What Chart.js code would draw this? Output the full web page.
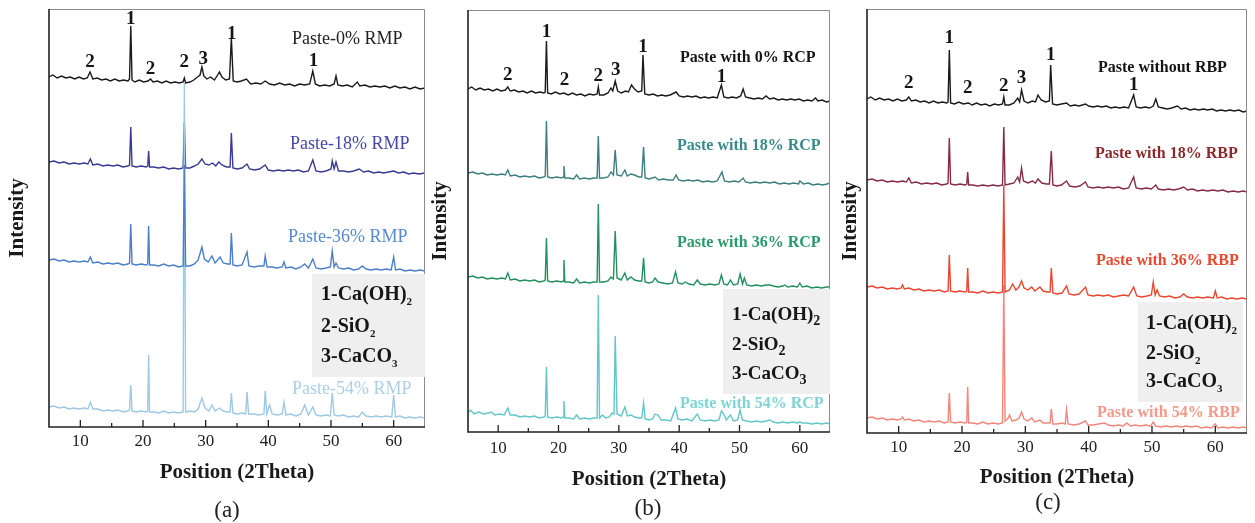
<!DOCTYPE html>
<html>
<head>
<meta charset="utf-8">
<script src="https://cdn.jsdelivr.net/npm/chart.js@4.4.1/dist/chart.umd.min.js"></script>
<style>
  html,body{margin:0;padding:0;background:#fff;}
  #wrap{position:relative;width:1255px;height:523px;overflow:hidden;font-family:"Liberation Serif","Times New Roman",serif;}
  canvas{position:absolute;top:0;}
  .t{position:absolute;white-space:nowrap;line-height:1;}
  .leg{position:absolute;background:#efefef;}
  .lg{position:absolute;white-space:nowrap;line-height:1;font-weight:bold;color:#151515;}
  .cap{position:absolute;width:100px;text-align:center;font-size:23px;line-height:1;color:#222;}
</style>
</head>
<body>
<div id="wrap">
  <canvas id="ca" width="430" height="523" style="left:0px"></canvas>
  <canvas id="cb" width="412" height="523" style="left:428px"></canvas>
  <canvas id="cc" width="417" height="523" style="left:838px"></canvas>

  <!-- panel (a) texts -->
  <div class="t" style="left:292px;top:29px;font-size:18px;color:#222;">Paste-0% RMP</div>
  <div class="t" style="left:290px;top:134px;font-size:18px;color:#4646a6;">Paste-18% RMP</div>
  <div class="t" style="left:288px;top:227px;font-size:18px;color:#5589d2;">Paste-36% RMP</div>
  <div class="leg" style="left:312px;top:274px;width:113px;height:103px;"></div>
  <div class="lg" style="left:321px;top:283px;font-size:20px;">1-Ca(OH)<span style="font-size:11px;position:relative;top:5px;">2</span></div>
  <div class="lg" style="left:321px;top:315px;font-size:20px;">2-SiO<span style="font-size:11px;position:relative;top:5px;">2</span></div>
  <div class="lg" style="left:321px;top:345px;font-size:20px;">3-CaCO<span style="font-size:11px;position:relative;top:5px;">3</span></div>
  <div class="t" style="left:292px;top:379px;font-size:18px;color:#a9d0e8;">Paste-54% RMP</div>
  <div class="cap" style="left:177px;top:498px;">(a)</div>

  <!-- panel (b) texts -->
  <div class="t" style="left:680px;top:49px;font-size:16px;font-weight:bold;color:#151515;">Paste with 0% RCP</div>
  <div class="t" style="left:677px;top:137px;font-size:16px;font-weight:bold;color:#3a8a8a;">Paste with 18% RCP</div>
  <div class="t" style="left:677px;top:234px;font-size:16px;font-weight:bold;color:#2a9a6a;">Paste with 36% RCP</div>
  <div class="leg" style="left:723px;top:289px;width:107px;height:105px;"></div>
  <div class="lg" style="left:732px;top:304px;font-size:19px;">1-Ca(OH)<span style="font-size:14px;position:relative;top:5px;">2</span></div>
  <div class="lg" style="left:732px;top:334px;font-size:19px;">2-SiO<span style="font-size:14px;position:relative;top:5px;">2</span></div>
  <div class="lg" style="left:732px;top:363px;font-size:19px;">3-CaCO<span style="font-size:14px;position:relative;top:5px;">3</span></div>
  <div class="t" style="left:680px;top:395px;font-size:16px;font-weight:bold;color:#7fd4d4;">Paste with 54% RCP</div>
  <div class="cap" style="left:598px;top:496px;">(b)</div>

  <!-- panel (c) texts -->
  <div class="t" style="left:1098px;top:59px;font-size:16px;font-weight:bold;color:#151515;">Paste without RBP</div>
  <div class="t" style="left:1095px;top:145px;font-size:16px;font-weight:bold;color:#8b2a2a;">Paste with 18% RBP</div>
  <div class="t" style="left:1096px;top:252px;font-size:16px;font-weight:bold;color:#e84a30;">Paste with 36% RBP</div>
  <div class="leg" style="left:1138px;top:302px;width:105px;height:100px;"></div>
  <div class="lg" style="left:1146px;top:312px;font-size:20px;">1-Ca(OH)<span style="font-size:11px;position:relative;top:5px;">2</span></div>
  <div class="lg" style="left:1146px;top:342px;font-size:20px;">2-SiO<span style="font-size:11px;position:relative;top:5px;">2</span></div>
  <div class="lg" style="left:1146px;top:370px;font-size:20px;">3-CaCO<span style="font-size:11px;position:relative;top:5px;">3</span></div>
  <div class="t" style="left:1097px;top:404px;font-size:16px;font-weight:bold;color:#f49a8a;">Paste with 54% RBP</div>
  <div class="cap" style="left:998px;top:490px;">(c)</div>
</div>

<script>
// ---------------- DATA (2Theta, intensity in arbitrary stacked units) ----------------
const xTicksMajor = [10, 20, 30, 40, 50, 60];

// Panel (a) RMP
const rmp0 = [[5,350],[5.6,352],[6.3,349],[7,351],[7.7,349],[8.4,350],[9.1,348],[9.8,350],[10.5,348],[11.1,349],[11.55,355],[12,348],[12.7,349],[13.4,347],[14.1,348],[14.8,346],[15.5,348],[16.2,346],[16.9,347],[17.6,346],[17.85,348],[18.05,401],[18.25,347],[18.7,345],[19.4,347],[20.1,345],[20.8,346],[21.2,348],[21.6,345],[22.3,346],[23,344],[23.7,346],[24.4,344],[25.1,345],[25.8,344],[26.4,345],[26.6,349],[26.8,344],[27.5,345],[28.1,347],[28.7,350],[29.1,352],[29.4,360],[29.7,351],[30.2,348],[30.8,350],[31.4,347],[31.9,352],[32.2,355],[32.6,350],[33.2,347],[33.8,348],[34.1,389],[34.4,346],[35,345],[35.7,346],[36.5,348],[37.2,343],[38,344],[38.8,343],[39.5,346],[40.2,343],[41,342],[41.8,344],[42.6,342],[43.4,343],[44.2,341],[45,343],[45.8,342],[46.6,343],[47.1,356],[47.5,343],[48.2,341],[49,342],[49.8,341],[50.5,343],[50.8,351],[51.1,342],[51.8,341],[52.6,342],[53.4,340],[54.2,345],[54.6,341],[55.4,342],[56.2,340],[57,341],[57.8,340],[58.6,341],[59.4,339],[60.2,341],[61,339],[61.8,340],[62.6,338],[63.4,340],[64.2,338],[65,339]];
const rmp18 = [[5,265],[5.8,266],[6.6,264],[7.4,265],[8.2,263],[9,264],[9.8,263],[10.6,264],[11.2,263],[11.6,268],[12,262],[12.8,263],[13.6,261],[14.4,262],[15.2,261],[16,262],[16.8,260],[17.6,261],[17.85,262],[18.05,300],[18.25,261],[18.9,260],[19.7,261],[20.5,260],[20.75,261],[20.9,276],[21.05,260],[21.7,260],[22.5,259],[23.3,260],[24.1,258],[24.9,259],[25.7,258],[26.4,259],[26.6,305],[26.8,259],[27.5,259],[28.2,261],[28.8,263],[29.4,268],[29.9,263],[30.5,262],[31.1,264],[31.6,261],[32.1,265],[32.6,262],[33.3,260],[33.9,260],[34.1,294],[34.35,259],[35,258],[35.8,259],[36.6,263],[37,258],[37.8,257],[38.6,258],[39.5,262],[40,257],[40.8,256],[41.6,257],[42.4,256],[43.2,257],[44,256],[44.8,257],[45.6,255],[46.4,256],[47.1,267],[47.6,256],[48.4,255],[49.2,256],[50,258],[50.2,266],[50.5,258],[50.8,265],[51.2,256],[52,256],[52.8,255],[53.6,256],[54.5,258],[55.2,255],[56,256],[56.8,254],[57.6,255],[58.4,254],[59.2,255],[60,256],[60.8,254],[61.6,255],[62.4,253],[63.2,254],[64,253],[65,254]];
const rmp36 = [[5,167],[5.8,168],[6.6,166],[7.4,167],[8.2,165],[9,166],[9.8,165],[10.6,166],[11.2,165],[11.6,170],[12,164],[12.8,165],[13.6,163],[14.4,164],[15.2,163],[16,164],[16.8,162],[17.6,163],[17.85,164],[18.05,203],[18.25,163],[18.9,162],[19.7,163],[20.5,162],[20.75,163],[20.9,201],[21.05,162],[21.7,162],[22.5,161],[23.3,163],[24.1,161],[24.9,162],[25.7,160],[26.4,161],[26.6,262],[26.8,161],[27.5,161],[28.2,163],[28.8,167],[29.4,180],[29.8,168],[30.4,165],[31,171],[31.5,164],[32.3,170],[32.8,164],[33.5,163],[33.9,163],[34.1,194],[34.35,162],[35,161],[35.8,162],[36.6,175],[36.9,161],[37.7,160],[38.5,161],[39.3,161],[39.5,171],[39.8,160],[40.6,160],[41.4,159],[42.2,160],[42.5,165],[42.8,159],[43.6,160],[44.4,158],[45.2,160],[45.8,163],[46.4,159],[47.1,168],[47.6,159],[48.4,158],[49.2,159],[49.9,160],[50.2,176],[50.5,160],[50.8,164],[51.2,159],[52,158],[52.8,159],[53.6,157],[54.4,158],[55,161],[55.6,158],[56.4,157],[57.2,158],[58,157],[58.8,158],[59.6,157],[60,170],[60.3,157],[61,158],[61.8,156],[62.6,157],[63.4,156],[64.2,157],[65,156]];
const rmp54 = [[5,20],[5.8,21],[6.6,19],[7.4,20],[8.2,18],[9,19],[9.8,18],[10.6,19],[11.2,18],[11.6,25],[12,18],[12.8,18],[13.6,16],[14.4,17],[15.2,16],[16,17],[16.8,15],[17.6,16],[17.85,17],[18.05,42],[18.25,16],[18.9,15],[19.7,16],[20.5,15],[20.75,16],[20.9,72],[21.05,15],[21.7,15],[22.5,14],[23.3,16],[24.1,14],[24.9,15],[25.7,14],[26.4,15],[26.6,344],[26.8,15],[27.5,16],[28.2,15],[28.8,18],[29.4,29],[29.9,19],[30.5,16],[31,22],[31.5,16],[32.2,19],[32.8,16],[33.5,15],[33.9,15],[34.1,34],[34.35,14],[35,13],[35.8,14],[36.4,13],[36.6,35],[36.85,13],[37.7,13],[38.5,12],[39.3,13],[39.5,36],[39.75,13],[40.2,22],[40.6,13],[41.4,12],[42.2,13],[42.5,25],[42.8,12],[43.6,13],[44.4,11],[45.2,13],[45.8,22],[46.4,12],[47.1,20],[47.6,12],[48.4,11],[49.2,12],[49.9,11],[50.2,34],[50.5,12],[51.2,11],[52,12],[52.8,10],[53.6,11],[54.4,10],[55,15],[55.6,11],[56.4,10],[57.2,11],[58,10],[58.8,11],[59.7,10],[60,32],[60.3,10],[61,11],[61.8,9],[62.6,10],[63.4,9],[64.2,10],[65,9]];

// Panel (b) RCP
const rcp0 = [[5,343],[5.6,345],[6.3,342],[7,344],[7.7,342],[8.4,343],[9.1,341],[9.8,343],[10.5,341],[11.2,342],[11.6,345],[12,341],[12.7,342],[13.4,340],[14.1,341],[14.8,339],[15.5,341],[16.2,339],[16.9,340],[17.6,339],[17.8,340],[18.0,391],[18.2,339],[18.8,338],[19.5,340],[20.2,338],[20.9,339],[21.6,337],[22.3,339],[23,337],[23.7,338],[24.4,336],[25.1,338],[25.8,337],[26.4,338],[26.6,345],[26.8,337],[27.5,337],[28.2,339],[28.7,344],[29,341],[29.4,351],[29.8,341],[30.4,339],[31.1,341],[31.6,340],[32.1,347],[32.6,343],[33.2,340],[33.8,341],[34.0,377],[34.3,338],[35,337],[35.7,338],[36.4,336],[37.1,337],[37.8,336],[38.5,337],[39.5,340],[40,336],[40.7,335],[41.4,336],[42.1,335],[42.8,336],[43.5,334],[44.2,335],[44.9,334],[45.6,335],[46.3,334],[47,347],[47.4,335],[48.1,334],[48.8,335],[49.5,334],[50.2,336],[50.6,343],[51,335],[51.7,334],[52.4,333],[53.1,334],[53.8,333],[54.4,336],[55,333],[55.7,334],[56.4,332],[57.1,333],[57.8,332],[58.5,333],[59.2,332],[59.9,333],[60.6,331],[61.3,332],[62,331],[62.6,334],[63,331],[63.7,332],[64.4,330],[65,331]];
const rcp18 = [[5,259],[5.8,260],[6.6,258],[7.4,259],[8.2,257],[9,258],[9.8,257],[10.6,258],[11.2,257],[11.6,262],[12,256],[12.8,257],[13.6,255],[14.4,256],[15.2,255],[16,256],[16.8,254],[17.6,255],[17.8,256],[18.0,311],[18.2,255],[18.9,254],[19.7,255],[20.5,254],[20.75,255],[20.9,266],[21.05,254],[21.7,254],[22.5,253],[23,257],[23.5,253],[24.3,254],[25.1,253],[25.9,254],[26.4,254],[26.6,296],[26.8,254],[27.5,254],[28.2,255],[28.7,260],[29.1,257],[29.4,282],[29.7,257],[30.4,256],[31,262],[31.4,256],[32,258],[32.6,257],[33.3,255],[33.8,255],[34.1,285],[34.35,254],[35,253],[35.6,254],[36,255],[36.6,252],[37.4,253],[38.2,252],[39,252],[39.5,257],[39.9,252],[40.7,251],[41.5,252],[42.3,251],[43.1,252],[43.9,250],[44.7,251],[45.5,250],[46.3,251],[47.1,260],[47.5,251],[48.3,250],[49.1,251],[49.9,250],[50.6,254],[51,250],[51.8,249],[52.6,250],[53.4,249],[54.2,250],[55,249],[55.8,250],[56.6,248],[57.4,249],[58.2,248],[59,249],[59.8,248],[60,251],[60.6,248],[61.4,249],[62.2,247],[63,248],[63.8,247],[64.5,248],[65,249]];
const rcp36 = [[5,155],[5.8,156],[6.6,154],[7.4,155],[8.2,153],[9,154],[9.8,153],[10.6,154],[11.2,153],[11.6,159],[12,152],[12.8,153],[13.6,151],[14.4,152],[15.2,151],[16,152],[16.8,150],[17.6,151],[17.8,152],[18.0,194],[18.2,151],[18.9,150],[19.7,151],[20.5,150],[20.75,151],[20.9,172],[21.05,150],[21.7,150],[22.5,149],[23,153],[23.5,149],[24.3,150],[25.1,149],[25.9,150],[26.4,150],[26.6,228],[26.8,150],[27.5,150],[28.2,151],[28.7,155],[29.1,153],[29.4,201],[29.7,154],[30.4,152],[31,159],[31.4,152],[32,155],[32.6,152],[33.3,151],[33.8,151],[34.1,174],[34.35,150],[35,149],[35.6,150],[36,154],[36.5,150],[37.3,149],[38.1,148],[38.9,149],[39.4,160],[39.8,149],[40.5,148],[41,150],[41.6,148],[42.4,147],[43,152],[43.5,148],[44.3,147],[45.1,148],[45.9,147],[46.6,148],[47,157],[47.4,148],[48,147],[48.5,152],[49,147],[49.7,148],[50.1,158],[50.5,148],[50.8,154],[51.2,147],[52,146],[52.8,147],[53.6,146],[54.4,147],[55,147],[55.6,146],[56.4,145],[57.2,146],[57.5,147],[58,145],[58.8,146],[59.6,145],[60,149],[60.4,145],[61.2,146],[62,144],[62.8,145],[63.6,144],[64.4,145],[65,145]];
const rcp54 = [[5,19],[5.4,22],[6,18],[6.8,20],[7.6,18],[8.4,19],[8.9,20],[9.4,17],[10.2,18],[11,17],[11.6,24],[12,17],[12.8,17],[13.6,15],[14.4,16],[15.2,15],[16,16],[16.8,14],[17.6,15],[17.8,16],[18.0,65],[18.2,15],[18.9,14],[19.7,15],[20.5,14],[20.75,15],[20.9,31],[21.05,14],[21.7,14],[22.5,13],[23,17],[23.5,13],[24.3,14],[25.1,13],[25.9,14],[26.4,14],[26.6,137],[26.8,14],[27.3,17],[27.8,14],[28.4,15],[28.9,19],[29.2,18],[29.4,96],[29.7,18],[30.4,16],[31,25],[31.4,16],[32,17],[32.6,15],[33.3,14],[33.8,14],[34.1,29],[34.35,13],[35,12],[35.6,13],[36,18],[36.5,17],[37,12],[37.8,12],[38.6,11],[39.4,24],[39.8,13],[40.5,12],[41.3,13],[42.1,11],[43,18],[43.5,12],[44.3,11],[45.1,12],[45.9,11],[46.6,12],[47,21],[47.4,18],[47.8,12],[48.5,17],[49,11],[49.7,12],[50.1,22],[50.5,12],[51.2,11],[52,10],[52.8,11],[53.6,10],[54.4,11],[55,12],[55.6,10],[56.4,9],[57.2,10],[58,9],[58.8,10],[59.6,9],[60,10],[60.4,9],[61.2,9],[62,8],[62.8,9],[63.6,8],[64.4,9],[65,8]];

// Panel (c) RBP
const rbp0 = [[5,334],[5.6,336],[6.3,333],[7,335],[7.7,333],[8.4,334],[9.1,332],[9.8,334],[10.5,332],[11.2,333],[11.6,336],[12,332],[12.7,333],[13.4,331],[14.1,332],[14.8,330],[15.5,332],[16.2,330],[16.9,331],[17.6,330],[17.8,331],[18.0,383],[18.2,330],[18.8,329],[19.5,331],[20.2,329],[21,330],[21.6,328],[22.3,330],[23,328],[23.7,329],[24.4,327],[25.1,329],[25.8,328],[26.4,329],[26.6,336],[26.8,328],[27.5,328],[28.2,330],[28.8,335],[29.1,331],[29.4,343],[29.8,332],[30.4,330],[31.1,332],[31.6,331],[32,338],[32.5,333],[33.2,331],[33.8,332],[34.0,368],[34.3,329],[35,328],[35.7,329],[36.5,330],[37.1,327],[37.8,328],[38.5,327],[39.5,329],[40,327],[40.7,326],[41.4,327],[42.1,326],[42.8,327],[43.5,325],[44.2,326],[44.9,325],[45.6,326],[46.3,325],[47.1,338],[47.5,326],[48.2,325],[48.9,326],[49.6,325],[50.2,327],[50.6,334],[51,326],[51.7,325],[52.4,324],[53.1,325],[54,327],[54.6,324],[55.3,325],[56,323],[56.7,324],[57.4,323],[58.1,324],[58.8,323],[59.5,324],[60.2,322],[60.9,323],[61.6,322],[62.3,323],[63,322],[63.7,323],[64.4,321],[65,322]];
const rbp18 = [[5,253],[5.8,254],[6.6,252],[7.4,253],[8.2,251],[9,252],[9.8,251],[10.6,252],[11.2,251],[11.6,255],[12,250],[12.8,251],[13.6,249],[14.4,250],[15.2,249],[16,250],[16.8,248],[17.6,249],[17.8,250],[18.0,295],[18.2,249],[18.9,248],[19.7,249],[20.5,248],[20.75,249],[20.9,261],[21.05,248],[21.7,248],[22.5,247],[23.3,248],[24.1,247],[24.9,248],[25.7,247],[26.4,248],[26.6,306],[26.8,248],[27.5,249],[28.2,250],[28.8,256],[29.1,251],[29.4,265],[29.7,252],[30.4,250],[31.1,252],[31.6,250],[32,254],[32.6,250],[33.3,249],[33.8,249],[34.1,282],[34.35,248],[35,247],[35.7,248],[36.5,252],[37,247],[37.8,246],[38.6,247],[39.5,251],[39.9,246],[40.7,245],[41.5,246],[42.3,245],[43.1,246],[43.9,245],[44.7,246],[45.5,244],[46.3,245],[47.1,256],[47.5,245],[48.3,244],[49.1,245],[49.9,244],[50.6,248],[51,244],[51.8,243],[52.6,244],[53.4,243],[54.2,244],[55,246],[55.6,243],[56.4,244],[57.2,242],[58,243],[58.8,242],[59.6,243],[60.4,242],[61.2,243],[62,241],[62.8,242],[63.6,241],[64.4,242],[65,241]];
const rbp36 = [[5,146],[5.8,147],[6.6,145],[7.4,146],[8.2,144],[9,145],[9.8,144],[10.4,145],[10.6,148],[10.9,144],[11.6,145],[12.4,143],[13.2,144],[14,142],[14.8,143],[15.6,142],[16.4,143],[17.2,141],[17.8,142],[18.0,178],[18.2,142],[18.9,141],[19.7,142],[20.5,141],[20.75,142],[20.9,165],[21.05,141],[21.7,141],[22.5,140],[23.3,142],[24.1,140],[24.9,141],[25.7,140],[26.4,141],[26.6,248],[26.8,141],[27.5,143],[28,149],[28.5,143],[29,146],[29.4,152],[29.8,145],[30.4,143],[31,146],[31.5,142],[32.3,146],[32.8,142],[33.5,141],[33.9,141],[34.1,165],[34.35,140],[35,139],[35.8,140],[36.5,147],[36.9,139],[37.7,138],[38.5,139],[39.5,146],[39.9,138],[40.7,137],[41.5,138],[42.3,137],[43.1,138],[43.9,136],[44.7,137],[45.5,138],[46.3,137],[47.1,146],[47.6,137],[48.4,136],[49.2,137],[49.9,138],[50.2,151],[50.5,138],[50.8,143],[51.2,137],[52,136],[52.8,137],[53.6,135],[54.4,136],[55,139],[55.6,136],[56.4,135],[57.2,136],[58,135],[58.8,136],[59.7,135],[60,142],[60.3,135],[61,136],[61.8,134],[62.6,135],[63.4,134],[64.2,135],[65,134]];
const rbp54 = [[5,15],[5.8,16],[6.6,14],[7.4,15],[8.2,13],[9,14],[9.8,13],[10.4,14],[10.6,16],[10.9,13],[11.6,14],[12.4,12],[13.2,13],[14,11],[14.8,12],[15.6,11],[16.4,12],[17.2,10],[17.8,11],[18.0,40],[18.2,11],[18.9,10],[19.7,11],[20.5,10],[20.75,11],[20.9,46],[21.05,10],[21.7,10],[22.5,9],[23.3,11],[24.1,9],[24.9,10],[25.7,9],[26.4,10],[26.6,148],[26.8,12],[27.2,14],[27.5,18],[27.9,12],[28.5,13],[29,15],[29.4,21],[29.8,14],[30.4,12],[31,15],[31.5,11],[32.3,13],[32.8,10],[33.5,10],[33.9,10],[34.1,24],[34.35,9],[35,9],[35.8,10],[36.3,9],[36.5,23],[36.75,9],[37.7,8],[38.5,9],[39.5,12],[39.9,8],[40.7,8],[41.5,9],[42.5,10],[43.1,8],[43.9,7],[44.7,8],[45.5,7],[46,10],[46.6,7],[47.4,8],[48.2,7],[49,8],[49.8,7],[50.2,11],[50.6,7],[51.4,6],[52.2,7],[53,6],[53.8,7],[54.6,6],[55.4,7],[56.2,6],[57,7],[57.8,5],[58.6,6],[59.4,5],[60,9],[60.4,5],[61.2,6],[62,5],[62.8,6],[63.6,5],[64.4,6],[65,5]];

// Peak identification labels [2Theta, height, label]
const peaksA = [[11.55,365,'2'],[18.05,408,'1'],[21.2,358,'2'],[26.6,365,'2'],[29.6,368,'3'],[34.15,393,'1'],[47.2,366,'1']];
const peaksB = [[11.6,357,'2'],[18.0,400,'1'],[21.0,352,'2'],[26.6,356,'2'],[29.5,362,'3'],[34.0,385,'1'],[47.0,355,'1']];
const peaksC = [[11.6,350,'2'],[18.0,395,'1'],[20.9,345,'2'],[26.6,347,'2'],[29.4,355,'3'],[34.0,378,'1'],[47.1,348,'1']];

const colorsA = ['#1a1a1a','#3a3a94','#4b7fcc','#9fc8e4'];
const colorsB = ['#1a1a1a','#3d7e80','#22905f','#63c6c8'];
const colorsC = ['#1a1a1a','#862a48','#ea4630','#f3867c'];
// drawing order (lower = drawn on top): 0%, 18%, 36%, 54%
const orderA = [0, 3, 1, 2];
const orderB = [0, 1, 2, 3];
const orderC = [0, 1, 2, 3];

// ---------------- RENDERING ----------------
const SERIF = '"Liberation Serif", "Times New Roman", serif';

const framePlugin = {
  id: 'frame',
  afterDatasetsDraw(chart, args, opts) {
    const {ctx, chartArea: {left, right, top, bottom}, scales: {x, y}} = chart;
    ctx.save();
    ctx.strokeStyle = '#8c8c8c';
    ctx.lineWidth = 1;
    ctx.beginPath();
    ctx.moveTo(left, top + 0.5);
    ctx.lineTo(right - 0.5, top + 0.5);
    ctx.lineTo(right - 0.5, bottom);
    ctx.stroke();
    ctx.strokeStyle = '#222';
    ctx.lineWidth = 1.6;
    ctx.beginPath();
    ctx.moveTo(left, top);
    ctx.lineTo(left, bottom);
    ctx.lineTo(right, bottom);
    ctx.stroke();
    ctx.lineWidth = 1.3;
    ctx.beginPath();
    x.ticks.forEach(t => {
      if (t.value <= x.min || t.value >= x.max) return;
      const px = x.getPixelForValue(t.value);
      const len = xTicksMajor.includes(t.value) ? 7 : 4;
      ctx.moveTo(px, bottom);
      ctx.lineTo(px, bottom - len);
    });
    ctx.stroke();
    ctx.fillStyle = '#151515';
    ctx.font = 'bold 19px ' + SERIF;
    ctx.textAlign = 'center';
    ctx.textBaseline = 'middle';
    (opts.peaks || []).forEach(([xv, yv, t]) => {
      ctx.fillText(t, x.getPixelForValue(xv), y.getPixelForValue(yv));
    });
    ctx.restore();
  }
};

function buildChart(id, series, colors, order, peaks, cfg) {
  return new Chart(document.getElementById(id), {
    type: 'line',
    data: {
      datasets: series.map((d, i) => ({
        data: d, borderColor: colors[i], borderWidth: 1.4, order: order[i],
        pointRadius: 0, tension: 0, fill: false
      }))
    },
    options: {
      responsive: false, animation: false, devicePixelRatio: 1,
      layout: {padding: cfg.pad},
      plugins: {legend: {display: false}, tooltip: {enabled: false}, frame: {peaks}},
      scales: {
        x: {
          type: 'linear', min: 5, max: 65,
          afterFit(s) { s.height = cfg.xH; },
          ticks: {
            stepSize: 5, autoSkip: false, maxRotation: 0, padding: cfg.tickPad, color: '#222',
            font: {family: SERIF, size: 17},
            callback: v => xTicksMajor.includes(v) ? String(v) : ''
          },
          grid: {display: false, drawTicks: false},
          border: {display: false},
          title: {display: true, text: 'Position (2Theta)', color: '#1a1a1a',
                  font: {family: SERIF, size: 21, weight: 'bold'}, padding: 0}
        },
        y: {
          type: 'linear', min: 0, max: cfg.yMax,
          afterFit(s) { s.width = cfg.yW; },
          ticks: {display: false},
          grid: {display: false, drawTicks: false},
          border: {display: false},
          title: {display: true, text: 'Intensity', color: '#1a1a1a',
                  font: {family: SERIF, size: 21, weight: 'bold'}, padding: 0}
        }
      }
    },
    plugins: [framePlugin]
  });
}

buildChart('ca', [rmp0, rmp18, rmp36, rmp54], colorsA, orderA, peaksA,
  {pad: {left: 5, right: 5, top: 9, bottom: 37.4}, yW: 44, xH: 58.6, yMax: 418, tickPad: 4});
buildChart('cb', [rcp0, rcp18, rcp36, rcp54], colorsB, orderB, peaksB,
  {pad: {left: 0, right: 10, top: 10, bottom: 30.4}, yW: 40, xH: 60.6, yMax: 422, tickPad: 6});
buildChart('cc', [rbp0, rbp18, rbp36, rbp54], colorsC, orderC, peaksC,
  {pad: {left: 0, right: 8, top: 9, bottom: 32.4}, yW: 29, xH: 57.6, yMax: 424, tickPad: 4});
</script>
</body>
</html>
